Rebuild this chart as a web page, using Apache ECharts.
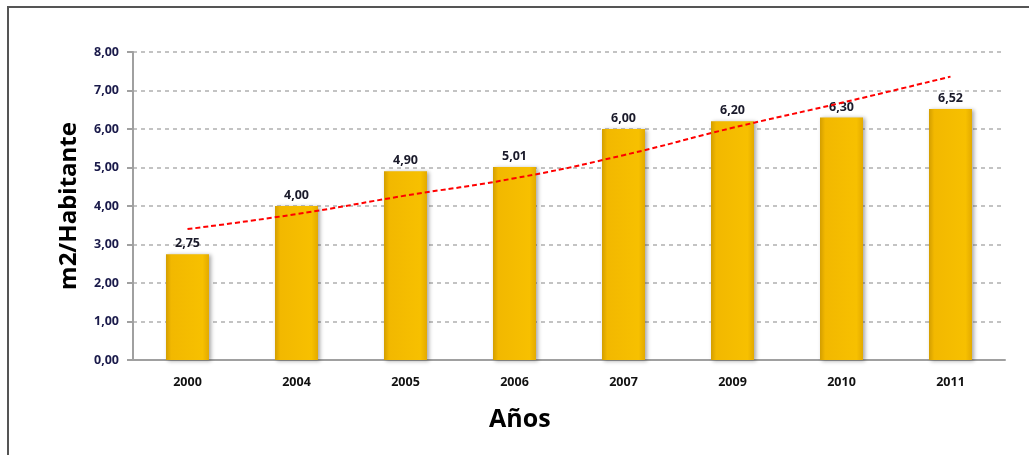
<!DOCTYPE html>
<html><head><meta charset="utf-8">
<script src="https://cdn.jsdelivr.net/npm/echarts@6/dist/echarts.min.js"></script>
<style>html,body{margin:0;padding:0;background:#fff}#c{width:1029px;height:455px}</style>
</head><body><div id="c"></div>
<script>
const categories = ['2000','2004','2005','2006','2007','2009','2010','2011'];
const values = [2.75, 4.00, 4.90, 5.01, 6.00, 6.20, 6.30, 6.52];
const trend = [3.40, 3.79, 4.27, 4.72, 5.32, 6.03, 6.68, 7.36];
const yTicks = [0, 1, 2, 3, 4, 5, 6, 7, 8];

const fmt = v => v.toFixed(2).replace('.', ',');
const font = '"Open Sans", Lato, sans-serif';
const chart = echarts.init(document.getElementById('c'));
chart.setOption({
  animation: false,
  backgroundColor: '#fff',
  grid: { left: 133, right: 24, top: 52, bottom: 95 },
  graphic: [
    { type: 'rect', shape: { x: 8, y: 7, width: 1060, height: 480 }, style: { fill: 'none', stroke: '#555', lineWidth: 2 }, z: 100 },
    { type: 'text', left: 489, top: 407, style: { text: 'Años', font: 'bold 25px ' + font, fill: '#000' } }
  ],
  xAxis: {
    type: 'category', data: categories,
    axisLine: { lineStyle: { color: '#a0a0a0', width: 2 } },
    axisTick: { show: false },
    axisLabel: { color: '#111', fontWeight: 'bold', fontSize: 12.5, fontFamily: font, margin: 16 }
  },
  yAxis: {
    type: 'value', min: yTicks[0], max: yTicks[yTicks.length - 1], interval: 1,
    name: 'm2/Habitante', nameLocation: 'middle', nameGap: 52,
    nameTextStyle: { fontSize: 24, fontWeight: 'bold', color: '#000', fontFamily: font },
    axisLine: { show: true, lineStyle: { color: '#a0a0a0', width: 2 } },
    axisTick: { show: true, length: 6, lineStyle: { color: '#a0a0a0', width: 2 } },
    axisLabel: { color: '#1a1a4a', fontWeight: 'bold', fontSize: 12.5, fontFamily: font, margin: 14, formatter: v => fmt(v) },
    splitLine: { lineStyle: { color: '#b0b0b0', type: [4, 4], width: 1.5 } }
  },
  series: [
    {
      type: 'bar', data: values, barWidth: 43,
      itemStyle: {
        color: new echarts.graphic.LinearGradient(0, 0, 1, 0, [
          { offset: 0, color: '#D39E00' },
          { offset: 0.12, color: '#F2B800' },
          { offset: 0.85, color: '#F7C000' },
          { offset: 1, color: '#E3AA00' }
        ]),
        shadowColor: 'rgba(0,0,0,0.35)', shadowBlur: 4, shadowOffsetX: 2, shadowOffsetY: 1
      },
      label: { show: true, position: 'top', distance: 4, color: '#1a1a2a', fontWeight: 'bold', fontSize: 12.5, fontFamily: font, formatter: p => fmt(p.value) }
    },
    {
      type: 'line', data: trend, symbol: 'none', smooth: true, z: 5,
      lineStyle: { color: '#ff0000', width: 2, type: [5, 3] }
    }
  ]
});
</script></body></html>
